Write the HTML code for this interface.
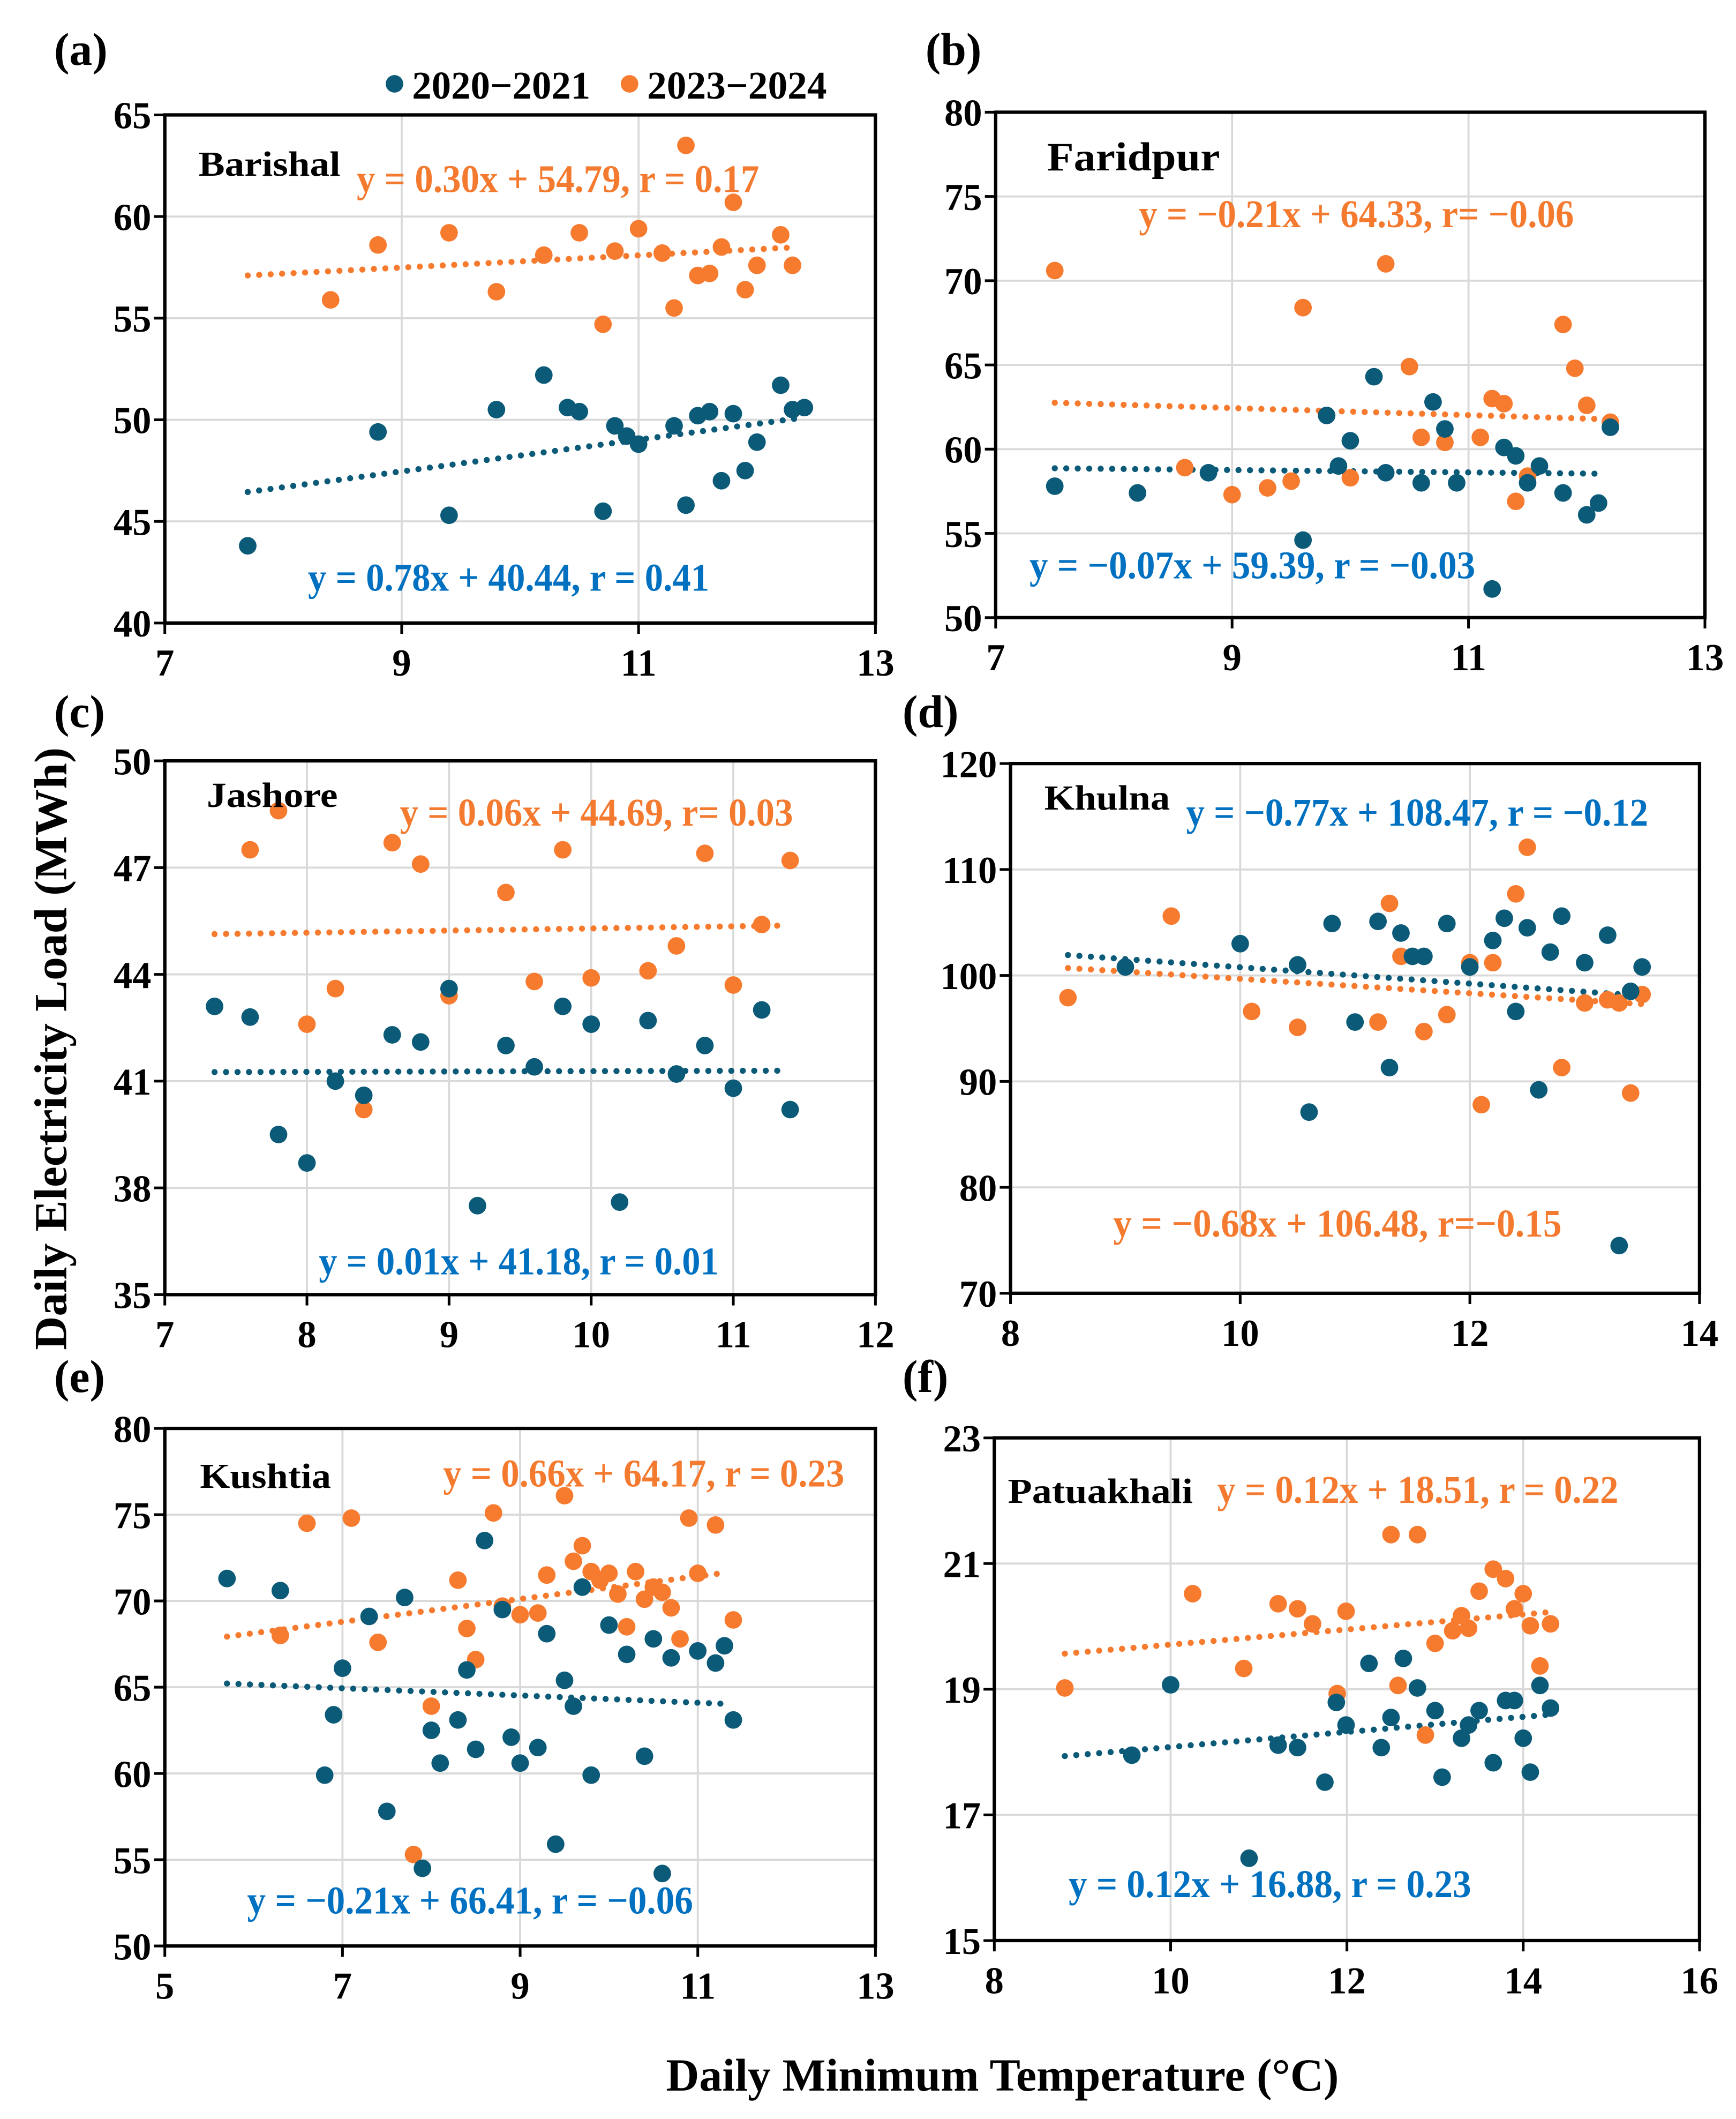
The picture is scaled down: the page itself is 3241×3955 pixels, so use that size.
<!DOCTYPE html>
<html><head><meta charset="utf-8"><style>
html,body{margin:0;padding:0;background:#fff;}
svg{display:block;}
text{font-family:"Liberation Serif",serif;font-weight:bold;}
</style></head><body>
<svg id="fig" width="3241" height="3955" viewBox="0 0 1285 1568" xmlns="http://www.w3.org/2000/svg"></svg>
<script>
// ---- Panel (a) Barishal ----
const aBlueX=[7.7,8.8,9.4,9.8,10.2,10.4,10.5,10.7,10.8,10.9,11.0,11.3,11.4,11.5,11.6,11.7,11.8,11.9,12.0,12.2,12.3,12.4];
const aBlueY=[43.8,49.4,45.3,50.5,52.2,50.6,50.4,45.5,49.7,49.2,48.8,49.7,45.8,50.2,50.4,47.0,50.3,47.5,48.9,51.7,50.5,50.6];
const aOrX=[8.4,8.8,9.4,9.8,10.2,10.5,10.7,10.8,11.0,11.2,11.3,11.4,11.5,11.6,11.7,11.8,11.9,12.0,12.2,12.3];
const aOrY=[55.9,58.6,59.2,56.3,58.1,59.2,54.7,58.3,59.4,58.2,55.5,63.5,57.1,57.2,58.5,60.7,56.4,57.6,59.1,57.6];
const aTrend=[0.78,40.44,0.30,54.79]; const aTrendX=[7.7,12.4,7.7,12.3];
const aXTicks=[7,9,11,13]; const aYTicks=[40,45,50,55,60,65];
// ---- Panel (b) Faridpur ----
const bBlueX=[7.5,8.2,8.8,9.6,9.8,9.9,10.0,10.2,10.3,10.6,10.7,10.8,10.9,11.2,11.3,11.4,11.5,11.6,11.8,12.0,12.1,12.2];
const bBlueY=[57.8,57.4,58.6,54.6,62.0,59.0,60.5,64.3,58.6,58.0,62.8,61.2,58.0,51.7,60.1,59.6,58.0,59.0,57.4,56.1,56.8,61.3];
const bOrX=[7.5,8.6,9.0,9.3,9.5,9.6,10.0,10.3,10.5,10.6,10.8,11.1,11.2,11.3,11.4,11.5,11.8,11.9,12.0,12.2];
const bOrY=[70.6,58.9,57.3,57.7,58.1,68.4,58.3,71.0,64.9,60.7,60.4,60.7,63.0,62.7,56.9,58.4,67.4,64.8,62.6,61.6];
const bTrend=[-0.07,59.39,-0.21,64.33]; const bTrendX=[7.5,12.1,7.5,12.2];
const bXTicks=[7,9,11,13]; const bYTicks=[50,55,60,65,70,75,80];
// ---- Panel (c) Jashore ----
const cBlueX=[7.35,7.6,7.8,8.0,8.2,8.4,8.6,8.8,9.0,9.2,9.4,9.6,9.8,10.0,10.2,10.4,10.6,10.8,11.0,11.2,11.4];
const cBlueY=[43.1,42.8,39.5,38.7,41.0,40.6,42.3,42.1,43.6,37.5,42.0,41.4,43.1,42.6,37.6,42.7,41.2,42.0,40.8,43.0,40.2];
const cOrX=[7.6,7.8,8.0,8.2,8.4,8.6,8.8,9.0,9.4,9.6,9.8,10.0,10.4,10.6,10.8,11.0,11.2,11.4];
const cOrY=[47.5,48.6,42.6,43.6,40.2,47.7,47.1,43.4,46.3,43.8,47.5,43.9,44.1,44.8,47.4,43.7,45.4,47.2];
const cTrend=[0.01,41.18,0.06,44.69]; const cTrendX=[7.35,11.35,7.35,11.35];
const cXTicks=[7,8,9,10,11,12]; const cYTicks=[35,38,41,44,47,50];
// ---- Panel (d) Khulna ----
const dBlueX=[9.0,10.0,10.5,10.6,11.0,10.8,11.2,11.3,11.4,11.5,11.6,11.8,12.0,12.2,12.3,12.4,12.5,12.6,12.7,12.8,13.0,13.2,13.3,13.4,13.5];
const dBlueY=[100.8,103.0,101.0,87.1,95.6,104.9,105.1,91.3,104.0,101.8,101.8,104.9,100.8,103.3,105.4,96.6,104.5,89.2,102.2,105.6,101.2,103.8,74.5,98.5,100.8];
const dOrX=[8.5,9.4,10.1,10.5,11.2,11.3,11.4,11.6,11.8,12.0,12.1,12.2,12.4,12.5,12.8,13.0,13.2,13.3,13.4,13.5];
const dOrY=[97.9,105.6,96.6,95.1,95.6,106.8,101.8,94.7,96.3,101.2,87.8,101.2,107.7,112.1,91.3,97.4,97.7,97.4,88.9,98.2];
const dTrend=[-0.77,108.47,-0.68,106.48]; const dTrendX=[8.5,13.5,8.5,13.5];
const dXTicks=[8,10,12,14]; const dYTicks=[70,80,90,100,110,120];
// ---- Panel (e) Kushtia ----
const eBlueX=[5.7,6.3,6.8,6.9,7.0,7.3,7.5,7.7,7.9,8.0,8.1,8.3,8.4,8.5,8.6,8.8,8.9,9.0,9.2,9.3,9.4,9.5,9.6,9.7,9.8,10.0,10.2,10.4,10.5,10.6,10.7,11.0,11.2,11.3,11.4];
const eBlueY=[71.3,70.6,59.9,63.4,66.1,69.1,57.8,70.2,54.5,62.5,60.6,63.1,66.0,61.4,73.5,69.5,62.1,60.6,61.5,68.1,55.9,65.4,63.9,70.8,59.9,68.6,66.9,61.0,67.8,54.2,66.7,67.1,66.4,67.4,63.1];
const eOrX=[6.3,6.6,7.1,7.4,7.8,8.0,8.3,8.4,8.5,8.7,8.8,9.0,9.2,9.3,9.5,9.6,9.7,9.8,9.9,10.0,10.1,10.2,10.3,10.4,10.5,10.6,10.7,10.8,10.9,11.0,11.2,11.4];
const eOrY=[68.0,74.5,74.8,67.6,55.3,63.9,71.2,68.4,66.6,75.1,69.7,69.2,69.3,71.5,76.1,72.3,73.2,71.7,71.2,71.6,70.4,68.5,71.7,70.1,70.8,70.5,69.6,67.8,74.8,71.6,74.4,68.9];
const eTrend=[-0.21,66.41,0.66,64.17]; const eTrendX=[5.7,11.3,5.7,11.3];
const eXTicks=[5,7,9,11,13]; const eYTicks=[50,55,60,65,70,75,80];
// ---- Panel (f) Patuakhali ----
const fBlueX=[9.56,10.0,10.89,11.22,11.44,11.75,11.88,11.99,12.25,12.39,12.50,12.64,12.80,13.0,13.08,13.30,13.38,13.50,13.66,13.80,13.90,14.00,14.08,14.19,14.31];
const fBlueY=[17.95,19.07,16.31,18.11,18.07,17.52,18.79,18.43,19.41,18.07,18.55,19.49,19.02,18.66,17.60,18.22,18.43,18.66,17.83,18.82,18.82,18.22,17.68,19.06,18.70];
const fOrX=[8.80,10.25,10.83,11.22,11.44,11.61,11.89,11.99,12.50,12.58,12.80,12.89,13.0,13.20,13.30,13.38,13.50,13.66,13.80,13.90,14.00,14.08,14.19,14.31];
const fOrY=[19.02,20.52,19.33,20.36,20.28,20.04,18.93,20.24,21.46,19.06,21.46,18.27,19.73,19.93,20.17,19.97,20.56,20.91,20.76,20.28,20.52,20.01,19.37,20.04];
const fTrend=[0.12,16.88,0.12,18.51]; const fTrendX=[8.8,14.3,8.8,14.3];
const fXTicks=[8,10,12,14,16]; const fYTicks=[15,17,19,21,23];

const BLUE="#0b5a78", ORANGE="#f77b2f", BLUET="#0070c0", ORT="#f47a30";
const NS="http://www.w3.org/2000/svg";
const svg=document.getElementById('fig');
function mk(tag,attrs,parent){const e=document.createElementNS(NS,tag);for(const k in attrs)e.setAttribute(k,attrs[k]);(parent||svg).appendChild(e);return e;}
function txt(str,x,y,size,fill,anchor,len,parent,name){
  const t=mk('text',{x:x,y:y,'font-size':size,fill:fill,'text-anchor':anchor||'start'},parent);
  if(len){t.setAttribute('textLength',len);t.setAttribute('lengthAdjust','spacingAndGlyphs');}
  t.textContent=str;
  
  
  return t;
}
const panels=[
 {id:'a',city:'Barishal',box:[122,85,648,461],xr:[7,13],yr:[40,65],xt:aXTicks,yt:aYTicks,bx:aBlueX,by:aBlueY,ox:aOrX,oy:aOrY,tr:aTrend,tx:aTrendX,
  lab:[40,48],cityT:[147,130,105,26],oEq:['y = 0.30x + 54.79, r = 0.17',264,142,298],bEq:['y = 0.78x + 40.44, r = 0.41',228,437,297]},
 {id:'b',city:'Faridpur',box:[737,83,1262,457],xr:[7,13],yr:[50,80],xt:bXTicks,yt:bYTicks,bx:bBlueX,by:bBlueY,ox:bOrX,oy:bOrY,tr:bTrend,tx:bTrendX,
  lab:[685,48],cityT:[775,126,128,30],oEq:['y = \u22120.21x + 64.33, r= \u22120.06',843,168,322],bEq:['y = \u22120.07x + 59.39, r = \u22120.03',762,428,330]},
 {id:'c',city:'Jashore',box:[122,563,648,958],xr:[7,12],yr:[35,50],xt:cXTicks,yt:cYTicks,bx:cBlueX,by:cBlueY,ox:cOrX,oy:cOrY,tr:cTrend,tx:cTrendX,
  lab:[40,538],cityT:[153,597,97,26],oEq:['y = 0.06x + 44.69, r= 0.03',296,611,291],bEq:['y = 0.01x + 41.18, r = 0.01',236,943,296]},
 {id:'d',city:'Khulna',box:[748,565,1258,957],xr:[8,14],yr:[70,120],xt:dXTicks,yt:dYTicks,bx:dBlueX,by:dBlueY,ox:dOrX,oy:dOrY,tr:dTrend,tx:dTrendX,
  lab:[668,538],cityT:[773,599,93,26],bEq:['y = \u22120.77x + 108.47, r = \u22120.12',878,611,342],oEq:['y = \u22120.68x + 106.48, r=\u22120.15',824,915,332]},
 {id:'e',city:'Kushtia',box:[122,1057,648,1440],xr:[5,13],yr:[50,80],xt:eXTicks,yt:eYTicks,bx:eBlueX,by:eBlueY,ox:eOrX,oy:eOrY,tr:eTrend,tx:eTrendX,
  lab:[40,1030],cityT:[148,1101,97,26],oEq:['y = 0.66x + 64.17, r = 0.23',328,1100,297],bEq:['y = \u22120.21x + 66.41, r = \u22120.06',183,1416,330]},
 {id:'f',city:'Patuakhali',box:[736,1064,1258,1436],xr:[8,16],yr:[15,23],xt:fXTicks,yt:fYTicks,bx:fBlueX,by:fBlueY,ox:fOrX,oy:fOrY,tr:fTrend,tx:fTrendX,
  lab:[668,1030],cityT:[746,1112,137,26],oEq:['y = 0.12x + 18.51, r = 0.22',901,1112,297],bEq:['y = 0.12x + 16.88, r = 0.23',791,1404,298]}
];
panels.forEach(p=>{
  const g=mk('g',{});
  
  
  const [L,T,R,B]=p.box;
  const X=v=>L+(v-p.xr[0])/(p.xr[1]-p.xr[0])*(R-L);
  const Y=v=>B-(v-p.yr[0])/(p.yr[1]-p.yr[0])*(B-T);
  p.xt.forEach(v=>{ if(v>p.xr[0]&&v<p.xr[1]){const l=mk('line',{x1:X(v),x2:X(v),y1:T,y2:B,stroke:'#d9d9d9','stroke-width':1.5},g);
    }});
  p.yt.forEach(v=>{ if(v>p.yr[0]&&v<p.yr[1]){const l=mk('line',{x1:L,x2:R,y1:Y(v),y2:Y(v),stroke:'#d9d9d9','stroke-width':1.5},g);
    }});
  p.xt.forEach(v=>{mk('line',{x1:X(v),x2:X(v),y1:B,y2:B+8,stroke:'#000','stroke-width':2},g);
    txt(String(v),X(v),B+39,28,'#000','middle',null,g,'x-tick-label');});
  p.yt.forEach(v=>{mk('line',{x1:L-8,x2:L,y1:Y(v),y2:Y(v),stroke:'#000','stroke-width':2},g);
    txt(String(v),L-10,Y(v)+10,28,'#000','end',null,g,'y-tick-label');});
  [[0,ORANGE],[1,BLUE]].forEach(([k,c])=>{
    const m=p.tr[k===1?0:2], b=p.tr[k===1?1:3], x0=p.tx[k===1?0:2], x1=p.tx[k===1?1:3];
    const l=mk('line',{x1:X(x0),y1:Y(m*x0+b),x2:X(x1),y2:Y(m*x1+b),stroke:c,'stroke-width':4.5,'stroke-linecap':'round','stroke-dasharray':'0 8.5'},g);
    
    
  });
  p.ox.forEach((x,i)=>{const c=mk('circle',{cx:X(x),cy:Y(p.oy[i]),r:6.5,fill:ORANGE},g);
    });
  p.bx.forEach((x,i)=>{const c=mk('circle',{cx:X(x),cy:Y(p.by[i]),r:6.5,fill:BLUE},g);
    });
  const fr=mk('rect',{x:L,y:T,width:R-L,height:B-T,fill:'none',stroke:'#000','stroke-width':2.5},g);
  
  txt('('+p.id+')',p.lab[0],p.lab[1],34,'#000','start',null,g,'panel-label');
  txt(p.city,p.cityT[0],p.cityT[1],p.cityT[3],'#000','start',p.cityT[2],g,'city-name');
  txt(p.oEq[0],p.oEq[1],p.oEq[2],29,ORT,'start',p.oEq[3],g,'equation-2023-2024');
  txt(p.bEq[0],p.bEq[1],p.bEq[2],29,BLUET,'start',p.bEq[3],g,'equation-2020-2021');
});
const lg=mk('g',{});  
let c1=mk('circle',{cx:292,cy:62,r:6.5,fill:BLUE},lg);  
txt('2020\u22122021',305,73,29,'#000','start',132,lg,'legend-entry-2020-2021');
let c2=mk('circle',{cx:466,cy:62,r:6.5,fill:ORANGE},lg);  
txt('2023\u22122024',479,73,29,'#000','start',133,lg,'legend-entry-2023-2024');
const yt=txt('Daily Electricity Load (MWh)',0,0,34,'#000','middle',446,svg,'y-axis-title');
yt.setAttribute('transform','translate(49,776) rotate(-90)');
txt('Daily Minimum Temperature (\u00B0C)',742,1547,34,'#000','middle',498,svg,'x-axis-title');
</script>
</body></html>
